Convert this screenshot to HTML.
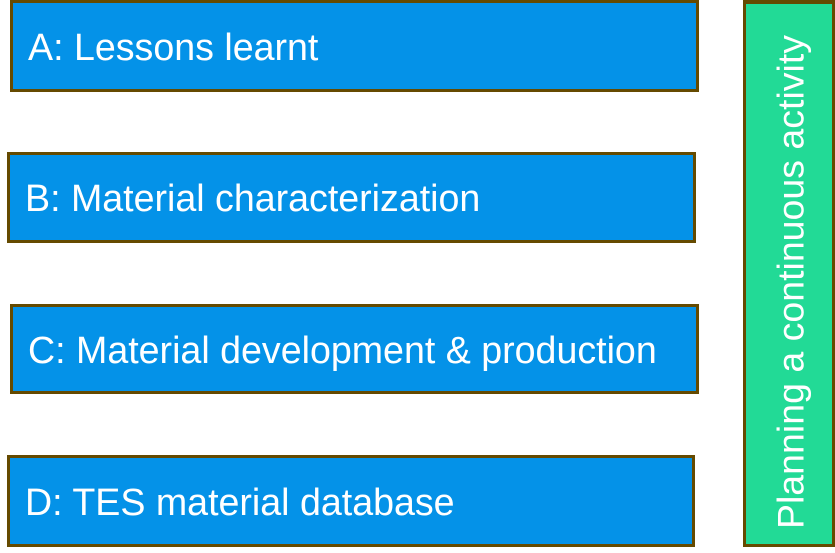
<!DOCTYPE html>
<html><head><style>
body{margin:0;width:835px;height:553px;background:#fff;position:relative;overflow:hidden;font-family:"Liberation Sans",Arial,sans-serif;}
.b{position:absolute;box-sizing:border-box;background:#0492e8;border:3px solid #654a00;color:#fff;font-size:37.6px;line-height:1;display:flex;align-items:center;padding-left:15px;padding-top:3px;}
.g{position:absolute;left:743px;top:0;width:92px;height:547px;box-sizing:border-box;background:#22da96;border:3px solid #654a00;border-top-width:4px}
.v{position:absolute;left:791px;top:282px;transform:translate(-50%,-50%) rotate(-90deg);white-space:nowrap;color:#fff;font-size:37.5px;}
</style></head><body>
<div class="b" style="left:10px;top:0;width:689px;height:92px;">A: Lessons learnt</div>
<div class="b" style="left:7px;top:152px;width:689px;height:91px;">B: Material characterization</div>
<div class="b" style="left:10px;top:304px;width:689px;height:90px;">C: Material development &amp; production</div>
<div class="b" style="left:7px;top:455px;width:688px;height:92px;">D: TES material database</div>
<div class="g"></div>
<div class="v">Planning a continuous activity</div>
</body></html>
